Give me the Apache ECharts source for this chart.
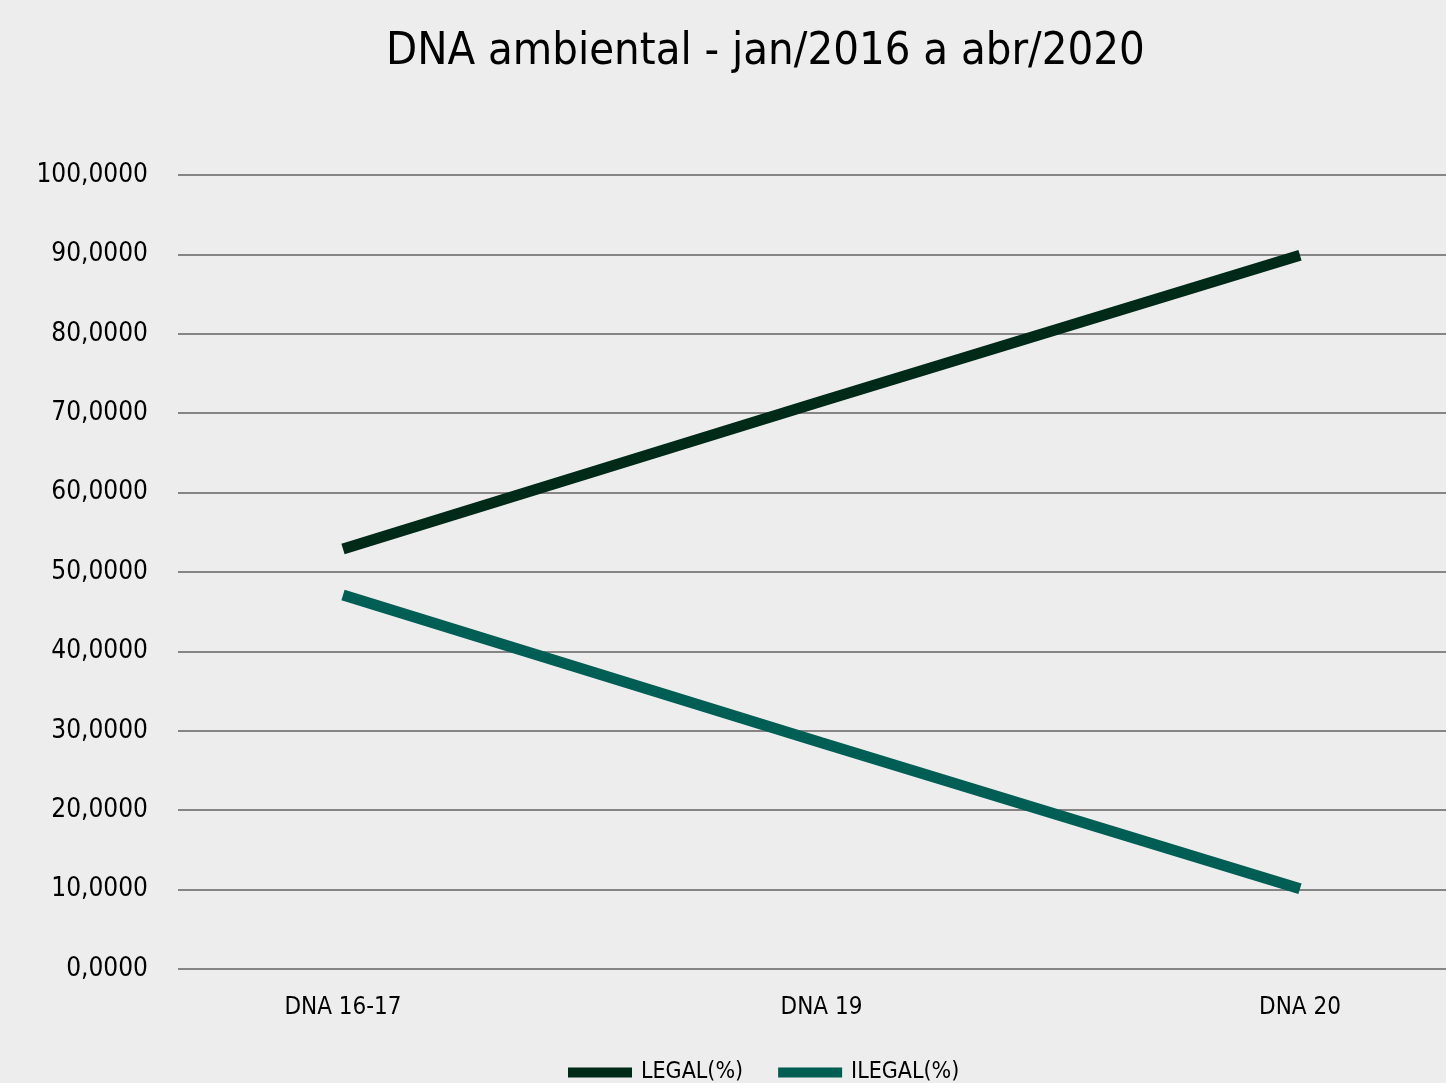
<!DOCTYPE html>
<html>
<head>
<meta charset="utf-8">
<script src="https://cdn.jsdelivr.net/npm/echarts@6/dist/echarts.min.js"></script>
<style>
  html, body { margin: 0; padding: 0; background: #ededed; }
  #chart { width: 1446px; height: 1083px; }
</style>
</head>
<body>
<div id="chart"></div>
<script>
const categories = ['DNA 16-17', 'DNA 19', 'DNA 20']
const legal = [52.9, 71.5, 89.9]
const ilegal = [47.1, 28.5, 10.1]

const font = '"DejaVu Sans Condensed", "Liberation Sans Narrow", sans-serif'
const fmt = (v) => v.toFixed(4).replace('.', ',')

const chart = echarts.init(document.getElementById('chart'))
chart.setOption({
  backgroundColor: '#ededed',
  animation: false,
  textStyle: { fontFamily: font },
  title: {
    text: 'DNA ambiental - jan/2016 a abr/2020',
    left: 381,
    top: 25,
    textStyle: { fontFamily: font, fontSize: 45, fontWeight: 'normal', color: '#000' },
  },
  legend: {
    top: 1056,
    left: 563,
    itemWidth: 64,
    itemHeight: 10,
    itemGap: 35,
    icon: 'rect',
    textStyle: { fontFamily: font, fontSize: 23, color: '#000', padding: [0, 0, 0, 4] },
    data: ['LEGAL(%)', 'ILEGAL(%)'],
  },
  grid: [
    { left: 178, right: 0, top: 175, bottom: 114 },
    { left: 343, right: 146, top: 175, bottom: 114 },
  ],
  xAxis: [
    { gridIndex: 0, type: 'category', data: categories, show: false },
    {
      gridIndex: 1,
      type: 'category',
      data: categories,
      boundaryGap: false,
      axisLine: { show: false },
      axisTick: { show: false },
      axisLabel: { fontFamily: font, fontSize: 24, color: '#000', margin: 27 },
    },
  ],
  yAxis: [
    {
      gridIndex: 0,
      type: 'value',
      min: 0,
      max: 100,
      interval: 10,
      axisLine: { show: false },
      axisTick: { show: false },
      axisLabel: { fontFamily: font, fontSize: 26, color: '#000', margin: 30, formatter: fmt },
      splitLine: { lineStyle: { color: '#858585', width: 2 } },
    },
    { gridIndex: 1, type: 'value', min: 0, max: 100, show: false },
  ],
  series: [
    {
      name: 'LEGAL(%)',
      type: 'line',
      xAxisIndex: 1,
      yAxisIndex: 1,
      data: legal,
      showSymbol: false,
      color: '#002a18',
      lineStyle: { width: 11, color: '#002a18', cap: 'butt' },
    },
    {
      name: 'ILEGAL(%)',
      type: 'line',
      xAxisIndex: 1,
      yAxisIndex: 1,
      data: ilegal,
      showSymbol: false,
      color: '#005e55',
      lineStyle: { width: 11, color: '#005e55', cap: 'butt' },
    },
  ],
})
</script>
</body>
</html>
